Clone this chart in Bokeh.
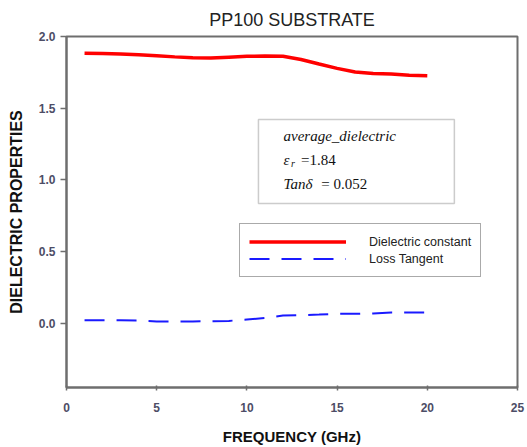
from bokeh.plotting import figure
from bokeh.models import (Range1d, FixedTicker, Legend, LegendItem, BoxAnnotation,
                          Label, NumeralTickFormatter)
from bokeh.embed import file_html
from bokeh.resources import INLINE

# ---- data ----
freq_ghz = [1, 2, 3, 4, 5, 6, 7, 8, 9, 10, 11, 12, 13, 14, 15, 16, 17, 18, 19, 20]
dielectric_constant = [1.884, 1.882, 1.878, 1.872, 1.866, 1.858, 1.852, 1.850, 1.856, 1.862,
                       1.864, 1.862, 1.840, 1.808, 1.778, 1.752, 1.742, 1.738, 1.730, 1.727]
loss_tangent = [0.022, 0.022, 0.022, 0.020, 0.014, 0.014, 0.014, 0.016, 0.018, 0.028,
                0.038, 0.055, 0.058, 0.062, 0.068, 0.068, 0.070, 0.077, 0.077, 0.077]
x_ticks = [0, 5, 10, 15, 20, 25]
y_ticks = [0.0, 0.5, 1.0, 1.5, 2.0]
series_names = ["Dielectric constant", "Loss Tangent"]
avg_title = "average_dielectric"
avg_er = "1.84"
avg_tan = "0.052"

AX = "#6e6e6e"
TICKC = "#4d4d66"

p = figure(width=527, height=447, output_backend="svg", toolbar_location=None,
           x_range=Range1d(0, 25), y_range=Range1d(-0.446, 2.0),
           min_border_left=66, min_border_right=10, min_border_top=36, min_border_bottom=60,
           title="PP100 SUBSTRATE")
p.title.align = "center"
p.title.text_font = "Liberation Sans"
p.title.text_font_size = "18px"
p.title.text_font_style = "normal"
p.title.text_color = "#222222"
p.title.standoff = 13

p.xgrid.visible = False
p.ygrid.visible = False
p.outline_line_color = AX
p.outline_line_width = 2
p.background_fill_color = "white"
p.border_fill_color = "white"

p.xaxis.ticker = FixedTicker(ticks=x_ticks)
p.yaxis.ticker = FixedTicker(ticks=y_ticks)
p.yaxis.formatter = NumeralTickFormatter(format="0.0")
for ax in (p.xaxis, p.yaxis):
    ax.axis_line_color = AX
    ax.axis_line_width = 2
    ax.major_tick_line_color = AX
    ax.major_tick_line_width = 1.5
    ax.minor_tick_line_color = None
    ax.major_label_text_font = "Liberation Sans"
    ax.major_label_text_font_size = "12px"
    ax.major_label_text_font_style = "bold"
    ax.major_label_text_color = TICKC
    ax.axis_label_text_font = "Liberation Sans"
    ax.axis_label_text_font_style = "bold"
    ax.axis_label_text_color = "#111111"

p.xaxis.axis_label = "FREQUENCY (GHz)"
p.xaxis.axis_label_text_font_size = "15px"
p.xaxis.major_tick_in = 2
p.xaxis.major_tick_out = 3
p.xaxis.major_label_standoff = 12
p.xaxis.axis_label_standoff = 13

p.yaxis.axis_label = "DIELECTRIC PROPERTIES"
p.yaxis.axis_label_text_font_size = "16px"
p.yaxis.major_tick_in = 0
p.yaxis.major_tick_out = 6
p.yaxis.major_label_standoff = 5
p.yaxis.axis_label_standoff = 11

r1 = p.line(freq_ghz, dielectric_constant, line_color="#ff0000", line_width=3.5)
r2 = p.line(freq_ghz, loss_tangent, line_color="#1a1aff", line_width=2, line_dash="20 12")

legend = Legend(items=[LegendItem(label=series_names[0], renderers=[r1]),
                       LegendItem(label=series_names[1], renderers=[r2])],
                location=(173, 110), orientation="vertical",
                border_line_color="#555555", border_line_width=1.5,
                background_fill_color="white", background_fill_alpha=1,
                padding=9, spacing=0, margin=0,
                glyph_width=97, glyph_height=17, label_height=17, label_standoff=23,
                label_text_font="Liberation Sans", label_text_font_size="12.5px",
                label_text_color="#222222")
p.add_layout(legend, "center")

# text box with average values
box = BoxAnnotation(left=10.64, right=21.5, top=1.4216, bottom=0.836,
                    fill_alpha=0, line_color="#555555", line_width=1.5)
p.add_layout(box)

serif = "Liberation Serif"
p.add_layout(Label(x=12.03, y=1.310, text=avg_title, text_font=serif, text_font_size="15px",
                   text_font_style="italic", text_baseline="middle", text_color="#111111"))
p.add_layout(Label(x=12.03, y=1.136, text="ε", text_font=serif, text_font_size="15px",
                   text_font_style="italic", text_baseline="middle", text_color="#111111"))
p.add_layout(Label(x=12.45, y=1.112, text="r", text_font=serif, text_font_size="10px",
                   text_font_style="italic", text_baseline="middle", text_color="#111111"))
p.add_layout(Label(x=13.0, y=1.136, text="=" + avg_er, text_font=serif, text_font_size="15px",
                   text_font_style="normal", text_baseline="middle", text_color="#111111"))
p.add_layout(Label(x=12.03, y=0.969, text="Tanδ", text_font=serif, text_font_size="15px",
                   text_font_style="italic", text_baseline="middle", text_color="#111111"))
p.add_layout(Label(x=14.12, y=0.969, text="= " + avg_tan, text_font=serif, text_font_size="15px",
                   text_font_style="normal", text_baseline="middle", text_color="#111111"))

open("out.html", "w").write(file_html(p, INLINE))
